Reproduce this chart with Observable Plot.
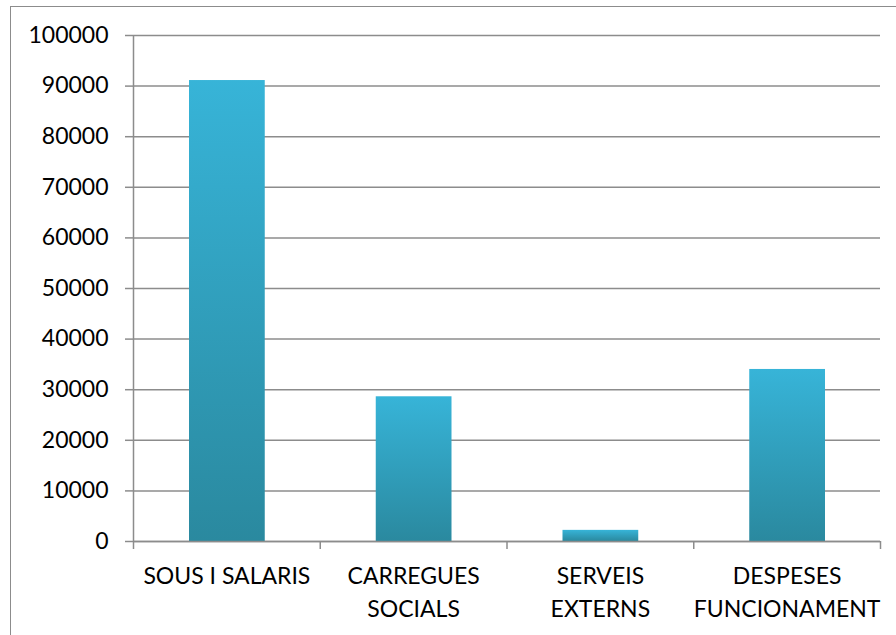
<!DOCTYPE html>
<html>
<head>
<meta charset="utf-8">
<script src="https://cdn.jsdelivr.net/npm/d3@7"></script>
<script src="https://cdn.jsdelivr.net/npm/@observablehq/plot@0.6"></script>
<style>
  html, body { margin: 0; padding: 0; background: #fff; overflow: hidden; }
  #wrap { position: relative; width: 896px; height: 635px; }
  #border { position: absolute; left: 10px; top: 6px; width: 1000px; height: 1000px;
            border: 1.5px solid #8c8c8c; pointer-events: none; box-sizing: border-box; }
</style>
</head>
<body>
<div id="wrap"><div id="border"></div></div>
<script>
const categories = ["SOUS I SALARIS", "CARREGUES SOCIALS", "SERVEIS EXTERNS", "DESPESES FUNCIONAMENT"];
const labels = ["SOUS I SALARIS", "CARREGUES\nSOCIALS", "SERVEIS\nEXTERNS", "DESPESES\nFUNCIONAMENT"];
const values = [91100, 28600, 2200, 34000];
const yTicks = [0, 10000, 20000, 30000, 40000, 50000, 60000, 70000, 80000, 90000, 100000];

const data = categories.map((c, i) => ({category: c, label: labels[i], value: values[i], i}));
const gray = "#8c8c8c";
const font = "Lato, 'Open Sans', sans-serif";

const defs = () => {
  const d = d3.create("svg:defs");
  const g = d.append("linearGradient").attr("id", "barGrad").attr("x1", 0).attr("y1", 0).attr("x2", 0).attr("y2", 1);
  g.append("stop").attr("offset", "0%").attr("stop-color", "#37b4d8");
  g.append("stop").attr("offset", "100%").attr("stop-color", "#2a899f");
  const f = d.append("filter").attr("id", "shadow").attr("x", "-20%").attr("y", "-5%").attr("width", "140%").attr("height", "115%");
  f.append("feDropShadow").attr("dx", 1).attr("dy", 1).attr("stdDeviation", 1.5).attr("flood-color", "#000").attr("flood-opacity", 0.25);
  return d.node();
};

const chart = Plot.plot({
  width: 896,
  height: 635,
  marginLeft: 133,
  marginRight: 16,
  marginTop: 35,
  marginBottom: 94,
  style: {fontFamily: font, color: "#000", background: "transparent"},
  x: {type: "linear", domain: [0, categories.length]},
  y: {domain: [0, 100000]},
  marks: [
    defs,
    Plot.gridY(yTicks, {stroke: gray, strokeOpacity: 1, strokeWidth: 1.5}),
    Plot.axisY(yTicks, {tickSize: 8, tickPadding: 17, fontSize: 23, stroke: gray, strokeWidth: 1.5, tickFormat: d => String(d), label: null, fill: "#000"}),
    Plot.axisX(d3.range(categories.length + 1), {tickSize: 8, tickFormat: () => "", stroke: gray, strokeWidth: 1.5, label: null}),
    Plot.rectY(data, {x1: "i", x2: d => d.i + 1, y1: 0, y2: "value", insetLeft: 56, insetRight: 55,
                      fill: "url(#barGrad)", ariaLabel: "bars"}),
    Plot.ruleX([0], {stroke: gray, strokeWidth: 1.5}),
    Plot.ruleY([0], {stroke: gray, strokeWidth: 1.5}),
    Plot.text(data, {x: d => d.i + 0.5, y: 0, text: "label", lineAnchor: "top", dy: 20,
                     lineHeight: 1.4, fontSize: 23, fill: "#000"})
  ]
});
d3.select(chart).selectAll("g[aria-label='bars']").attr("filter", "url(#shadow)");
document.getElementById("wrap").prepend(chart);
</script>
</body>
</html>
